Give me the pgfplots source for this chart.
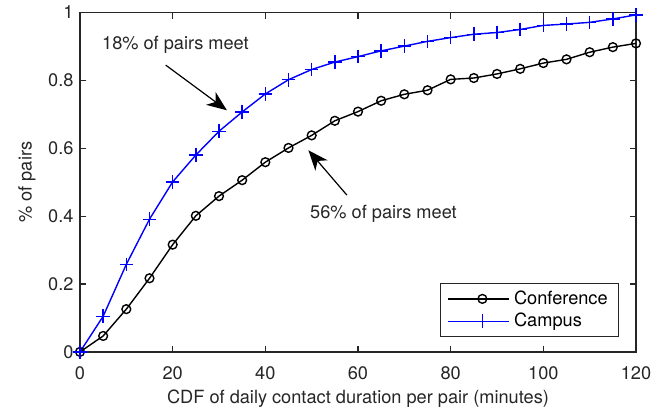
\documentclass[border=0pt]{standalone}
\usepackage{pgfplots}
\pgfplotsset{compat=1.18}
\usepackage{fontspec}
\setmainfont{TeX Gyre Heros}
\usetikzlibrary{arrows.meta}
\definecolor{axgray}{gray}{0.15}
\begin{document}
\fontsize{9.1}{11}\selectfont
\begin{tikzpicture}
\begin{axis}[
  scale only axis,
  width=278pt, height=169.7pt,
  xmin=0, xmax=120, ymin=0, ymax=1,
  xtick={0,20,...,120},
  ytick={0,0.2,0.4,0.6,0.8,1},
  yticklabels={0,0.2,0.4,0.6,0.8,1},
  tick pos=both, tick align=inside,
  major tick length=3pt,
  axis line style={axgray, line width=0.6pt},
  every tick/.style={axgray, line width=0.6pt},
  tick label style={font=\fontsize{9.1}{11}\selectfont, text=axgray},
  xticklabel style={anchor=base, yshift=-13.6pt},
  /pgf/number format/assume math mode=true,
  xlabel={CDF of daily contact duration per pair (minutes)},
  ylabel={\% of pairs},
  label style={font=\fontsize{9.1}{11}\selectfont, text=axgray},
  xlabel style={at={(axis description cs:0.5,0)}, anchor=base, yshift=-26pt},
  ylabel style={yshift=0pt},
  legend style={at={(rel axis cs:0.970,0.044)}, anchor=south east,
    draw=axgray, line width=0.6pt, font=\fontsize{9.1}{11}\selectfont,
    inner xsep=3.5pt, inner ysep=1.5pt, row sep=-1pt},
  legend cell align=left,
  legend image code/.code={%
    \path (-3.5pt,0pt) -- (27pt,0pt);
    \draw[#1] (0pt,0pt) -- (27pt,0pt);
    \draw[#1, mark repeat=2, mark phase=2] plot coordinates {(0pt,0pt) (13.5pt,0pt) (27pt,0pt)};
  },
  clip=false,
]
\addplot[black, line width=0.7pt, mark=o, mark size=2.2pt, mark options={solid, line width=0.7pt}] coordinates {
(0,0) (5,0.047) (10,0.126) (15,0.217) (20,0.316) (25,0.401) (30,0.459)
(35,0.506) (40,0.559) (45,0.601) (50,0.638) (55,0.681) (60,0.708)
(65,0.740) (70,0.759) (75,0.771) (80,0.803) (85,0.807) (90,0.819)
(95,0.834) (100,0.851) (105,0.862) (110,0.883) (115,0.898) (120,0.909)
};
\addlegendentry{Conference}
\addplot[blue, line width=0.7pt, mark=+, mark size=3.4pt, mark options={solid, line width=0.7pt}] coordinates {
(0,0) (5,0.105) (10,0.258) (15,0.391) (20,0.501) (25,0.580) (30,0.650)
(35,0.707) (40,0.760) (45,0.802) (50,0.832) (55,0.854) (60,0.870)
(65,0.887) (70,0.901) (75,0.915) (80,0.926) (85,0.936) (90,0.941)
(95,0.950) (100,0.962) (105,0.966) (110,0.971) (115,0.981) (120,0.993)
};
\addlegendentry{Campus}
\draw[-{Stealth[length=10pt,width=8pt,inset=3pt]}, line width=0.6pt] (axis cs:18.5,0.845) -- (axis cs:31.7,0.712);
\draw[-{Stealth[length=10pt,width=8pt,inset=3pt]}, line width=0.6pt] (axis cs:57.6,0.462) -- (axis cs:49.3,0.594);
\node[text=axgray, font=\fontsize{9.1}{11}\selectfont] at (axis cs:20.6,0.904) {18\% of pairs meet};
\node[text=axgray, font=\fontsize{9.1}{11}\selectfont] at (axis cs:65.5,0.408) {56\% of pairs meet};
\end{axis}
\path (-40pt,-30.65pt) rectangle (295.5pt,175.85pt);
\end{tikzpicture}
\end{document}
